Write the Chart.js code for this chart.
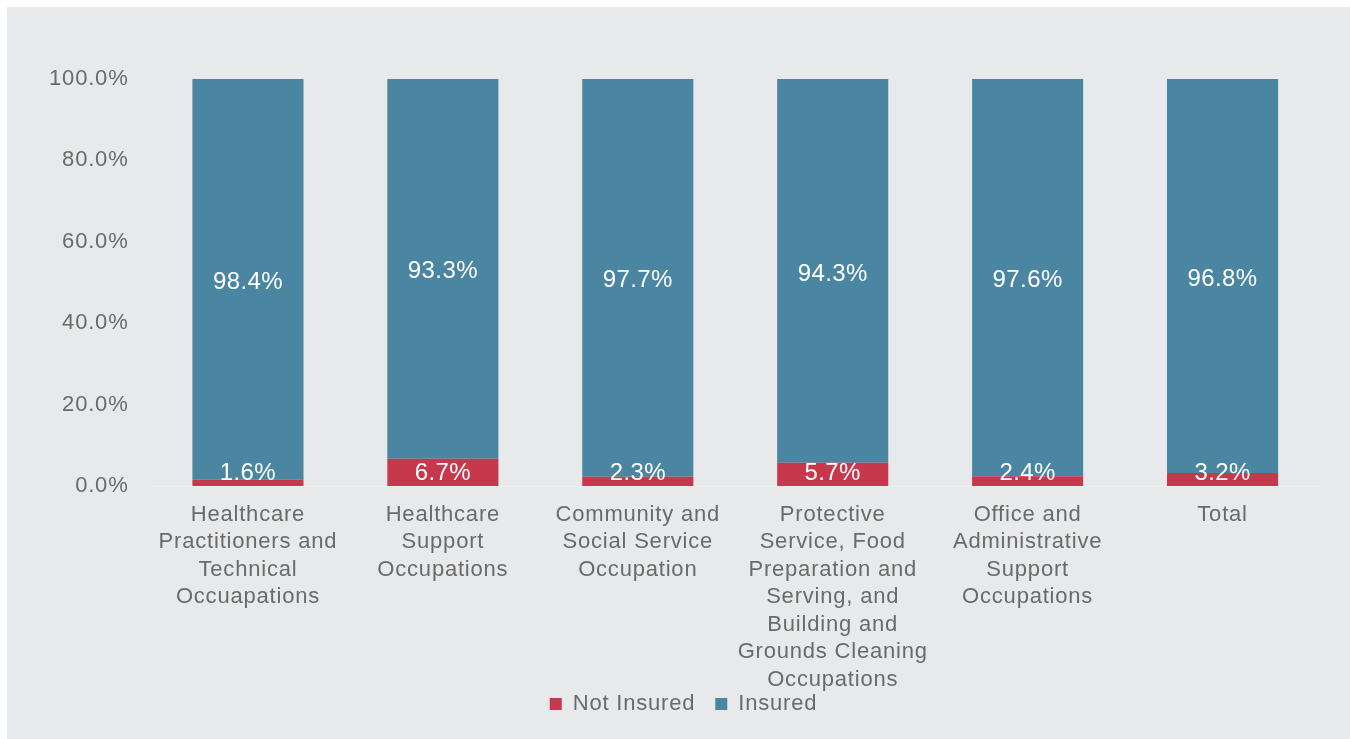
<!DOCTYPE html>
<html>
<head>
<meta charset="utf-8">
<script src="https://cdn.jsdelivr.net/npm/chart.js@4.4.1/dist/chart.umd.min.js"></script>
<style>
    html, body { margin: 0; padding: 0; background: #ffffff; }
    body { width: 1350px; height: 739px; position: relative; overflow: hidden; }
    .panel { position: absolute; left: 7px; top: 7px; width: 1343px; height: 732px; background: #e8e9ea; }
</style>
</head>
<body>
<div class="panel">
    <canvas id="insuranceChart" width="1343" height="732"></canvas>
</div>
<script>
// Data
const categories = [
    ['Healthcare', 'Practitioners and', 'Technical', 'Occuapations'],
    ['Healthcare', 'Support', 'Occupations'],
    ['Community and', 'Social Service', 'Occupation'],
    ['Protective', 'Service, Food', 'Preparation and', 'Serving, and', 'Building and', 'Grounds Cleaning', 'Occupations'],
    ['Office and', 'Administrative', 'Support', 'Occupations'],
    ['Total']
];
const notInsured = [1.6, 6.7, 2.3, 5.7, 2.4, 3.2];
const insured = [98.4, 93.3, 97.7, 94.3, 97.6, 96.8];
const yTicks = [0, 20, 40, 60, 80, 100];

const FONT = "'Liberation Sans', Arial, sans-serif";
const GRAY = '#6a6a6a';

// Letter spacing to match the wide rendering of the original
const spacingPlugin = {
    id: 'spacing',
    beforeLayout(chart) { chart.ctx.letterSpacing = '0.8px'; },
    afterLayout(chart) {
        // let the long category label run under the legend instead of being clipped
        chart.scales.x.bottom = chart.height;
    },
    beforeDraw(chart) { chart.ctx.letterSpacing = '0.8px'; }
};

// Value labels centred in each segment
const valueLabels = {
    id: 'valueLabels',
    afterDatasetsDraw(chart) {
        const ctx = chart.ctx;
        ctx.save();
        ctx.letterSpacing = '0.4px';
        ctx.font = '24px ' + FONT;
        ctx.fillStyle = '#ffffff';
        ctx.textAlign = 'center';
        ctx.textBaseline = 'middle';
        chart.data.datasets.forEach((ds, i) => {
            const meta = chart.getDatasetMeta(i);
            meta.data.forEach((bar, j) => {
                let cy = (bar.y + bar.base) / 2;
                if (i === 0) cy = Math.min(cy, bar.base - 16);
                ctx.fillText(ds.data[j].toFixed(1) + '%', bar.x, cy + 3);
            });
        });
        ctx.restore();
    }
};

new Chart(document.getElementById('insuranceChart'), {
    type: 'bar',
    data: {
        labels: categories,
        datasets: [{
            label: 'Not Insured',
            data: notInsured,
            backgroundColor: '#c8384d',
            barPercentage: 0.57,
            categoryPercentage: 1
        }, {
            label: 'Insured',
            data: insured,
            backgroundColor: '#4a86a1',
            barPercentage: 0.57,
            categoryPercentage: 1
        }]
    },
    options: {
        responsive: false,
        animation: false,
        layout: {
            padding: { left: 40, right: 30, top: 72, bottom: 14 }
        },
        plugins: {
            legend: {
                position: 'bottom',
                labels: {
                    color: GRAY,
                    font: { family: FONT, size: 22 },
                    boxWidth: 12,
                    boxHeight: 12,
                    padding: 20
                }
            },
            tooltip: { enabled: false }
        },
        scales: {
            x: {
                stacked: true,
                grid: { display: false, drawTicks: false },
                border: { display: true, color: '#eeeff0', width: 1 },
                ticks: {
                    color: GRAY,
                    padding: 15,
                    maxRotation: 0,
                    autoSkip: false,
                    font: { family: FONT, size: 22, lineHeight: 1.25 }
                },
                afterFit(scale) { scale.height = 187; }
            },
            y: {
                stacked: true,
                min: 0,
                max: 100,
                grid: { display: false, drawTicks: false },
                border: { display: false },
                afterBuildTicks(scale) {
                    scale.ticks = yTicks.map(v => ({ value: v }));
                },
                ticks: {
                    color: GRAY,
                    padding: 22,
                    font: { family: FONT, size: 22 },
                    callback: v => v.toFixed(1) + '%'
                },
                afterFit(scale) { scale.width = 103.5; }
            }
        }
    },
    plugins: [spacingPlugin, valueLabels]
});
</script>
</body>
</html>
